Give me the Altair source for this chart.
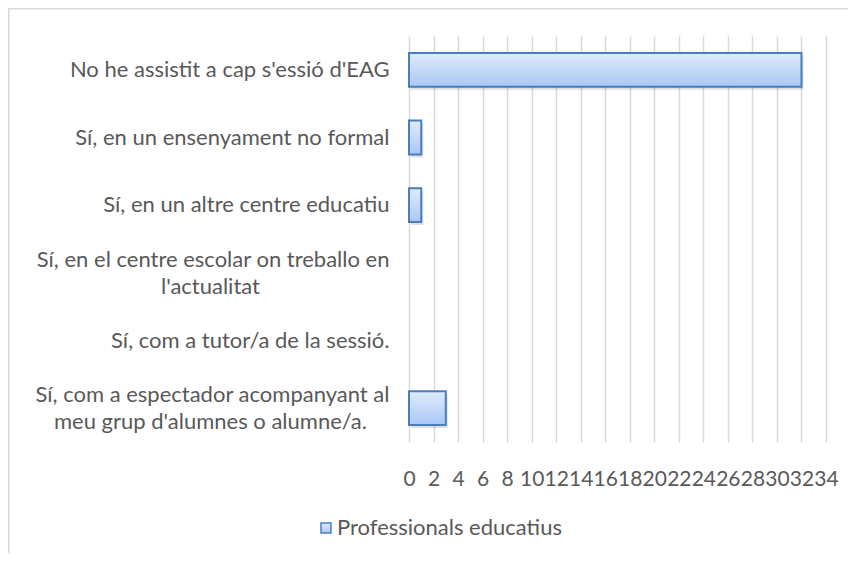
import altair as alt
import pandas as pd

NB = "\u00a0"
ZW = "\u200b"
categories = [
    "No he assistit a cap s'essió d'EAG",
    "Sí, en un ensenyament no formal",
    "Sí, en un altre centre educatiu",
    "Sí, en el centre escolar on treballo en|l'actualitat" + NB * 23 + ZW,
    "Sí, com a tutor/a de la sessió.",
    "Sí, com a espectador acompanyant al|meu grup d'alumnes o alumne/a." + NB * 4 + ZW,
]
values = [32, 1, 1, 0, 0, 3]
series = ["Professionals educatius"] * 6
x_ticks = list(range(0, 35, 2))

df = pd.DataFrame({"cat": categories, "v": values, "s": series})

FONT = "Lato"
GRAY = "#595959"

grad = alt.Gradient(
    gradient="linear",
    stops=[alt.GradientStop(color="#e0ebfc", offset=0),
           alt.GradientStop(color="#a9c7f5", offset=1)],
    x1=0, x2=0, y1=0, y2=1,
)

y_enc = alt.Y("cat:N", sort=None,
              scale=alt.Scale(paddingInner=0.5, paddingOuter=0.25),
              axis=alt.Axis(title=None, labelExpr="split(datum.label, '|')",
                            labelLimit=420, labelPadding=20, ticks=False, domain=False,
                            labelFontSize=22, labelColor=GRAY, labelFont=FONT,
                            labelLineHeight=27, grid=False,
                            labelOffset={"condition": {"test": "indexof(datum.value, '|') >= 0",
                                                       "value": -13}, "value": 0})
              )
x_enc = alt.X("v:Q", scale=alt.Scale(domain=[0, 34], nice=False),
              axis=alt.Axis(title=None, values=x_ticks, labelOverlap=False, labelFlush=False,
                            ticks=False, domain=False, labelPadding=26,
                            labelFontSize=21, labelColor=GRAY, labelFont=FONT,
                            gridColor="#d9d9d9", gridWidth=1.5))

shadow = alt.Chart(df).mark_bar(fill="#000000", fillOpacity=0.12, xOffset=2, yOffset=3).encode(
    y=y_enc, x=x_enc,
    opacity=alt.condition("datum.v == 0", alt.value(0), alt.value(1)),
)

bars = alt.Chart(df).mark_bar(fill=grad, strokeWidth=2).encode(
    y=y_enc, x=x_enc,
    stroke=alt.Stroke("s:N", scale=alt.Scale(range=["#4a7ebb"]),
                      legend=alt.Legend(title=None, orient="none", legendX=-94, legendY=481,
                                        symbolType="square", symbolSize=100,
                                        symbolFillColor="#c6d9f7", symbolStrokeWidth=1.5,
                                        labelLimit=400, labelOffset=0,
                                        labelFontSize=22, labelColor=GRAY, labelFont=FONT)),
    opacity=alt.condition("datum.v == 0", alt.value(0), alt.value(1)),
)

frame = alt.Chart(pd.DataFrame({"a": [0]})).mark_rect(
    fill=None, stroke="#d9d9d9", strokeWidth=1.5
).encode(
    x=alt.value(-400.2), x2=alt.value(470), y=alt.value(-27.2), y2=alt.value(570)
)

chart = alt.layer(frame, shadow, bars).properties(
    width=417, height=406,
    autosize=alt.AutoSizeParams(type="none"),
    padding={"left": 401, "top": 28, "right": 22, "bottom": 111},
).configure_view(stroke=None)

chart.save("out.html", embed_options={"renderer": "svg", "actions": False})
